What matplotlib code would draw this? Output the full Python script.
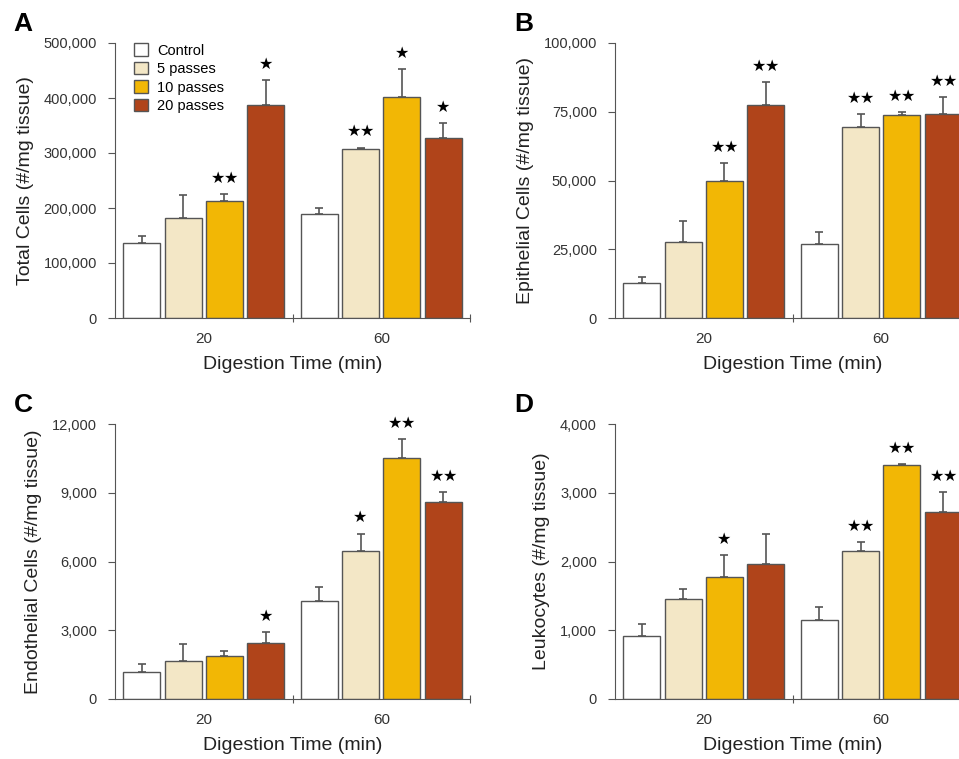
import matplotlib
matplotlib.use("Agg")
import matplotlib.pyplot as plt
import numpy as np

plt.rcParams['font.family'] = ['Liberation Sans', 'DejaVu Sans']

#%% data
groups = ['Control', '5 passes', '10 passes', '20 passes']
times = ['20', '60']

totalMean = [[136000, 182000, 213000, 387000], [189000, 308000, 402000, 328000]]
totalErr = [[14000, 41000, 13000, 45000], [11000, 2000, 51000, 26000]]
totalStars = [[0, 0, 2, 1], [0, 2, 1, 1]]

epiMean = [[12900, 27700, 50000, 77500], [26800, 69400, 73700, 74300]]
epiErr = [[2000, 7700, 6200, 8200], [4400, 4900, 1200, 6000]]
epiStars = [[0, 0, 2, 2], [0, 2, 2, 2]]

endoMean = [[1180, 1650, 1890, 2460], [4270, 6480, 10530, 8590]]
endoErr = [[360, 750, 190, 470], [620, 740, 800, 440]]
endoStars = [[0, 0, 0, 1], [0, 1, 2, 2]]

leukoMean = [[920, 1450, 1770, 1960], [1155, 2150, 3400, 2720]]
leukoErr = [[170, 155, 325, 440], [185, 135, 15, 290]]
leukoStars = [[0, 0, 1, 0], [0, 2, 2, 2]]

colors = ['#FFFFFF', '#F3E7C6', '#F2B705', '#B0441A']

#%% plotting
fig = plt.figure(figsize=(9.59, 7.59), dpi=100)

def drawPanel(rect, letter, means, errs, stars, ymax, step, ylabel, legend=False):
    ax = fig.add_axes(rect)
    barW = 0.208
    offsets = np.array([-1.5, -0.5, 0.5, 1.5]) * 0.233
    starGap = 0.037  # half distance between two stars, data units
    for g in range(2):
        for i in range(4):
            x = g + 0.5 + offsets[i]
            m = means[g][i]
            e = errs[g][i]
            ax.bar(x, m, barW, color=colors[i], edgecolor='#555555', linewidth=1.0,
                   label=groups[i] if g == 0 else None, zorder=2)
            ax.errorbar(x, m, yerr=[[0], [e]], fmt='none', ecolor='#555555',
                        elinewidth=1.2, capsize=3, capthick=1.2, zorder=1)
            n = stars[g][i]
            if n == 1:
                xs = [x]
            elif n == 2:
                xs = [x - starGap, x + starGap]
            else:
                xs = []
            for sx in xs:
                ax.text(sx, m + e + ymax * 0.03, '★', ha='center', va='bottom',
                        fontsize=11.5, family=['DejaVu Sans'], color='black')
    ax.set_xlim(0, 2)
    ax.set_ylim(0, ymax)
    ax.set_yticks(np.arange(0, ymax + 1, step))
    ax.set_yticklabels(['{:,}'.format(int(v)) for v in np.arange(0, ymax + 1, step)])
    ax.set_xticks([1, 2])
    ax.set_xticklabels(['', ''])
    ax.tick_params(axis='x', direction='inout', length=6, color='#555555')
    ax.set_xticks([0.5, 1.5], minor=True)
    ax.set_xticklabels(times, minor=True)
    ax.tick_params(axis='x', which='minor', length=0, pad=10, labelsize=11, labelcolor='#333333')
    ax.tick_params(axis='y', direction='out', length=5, color='#555555', labelsize=10.5,
                   labelcolor='#333333', pad=8)
    for s in ['top', 'right']:
        ax.spines[s].set_visible(False)
    for s in ['left', 'bottom']:
        ax.spines[s].set_color('#555555')
    ax.set_xlabel('Digestion Time (min)', fontsize=14, color='#222222', labelpad=7)
    ax.set_ylabel(ylabel, fontsize=14, color='#222222', labelpad=7)
    ax.text(-0.285, 1.07, letter, transform=ax.transAxes, fontsize=19, fontweight='bold',
            ha='left', va='center')
    if legend:
        ax.legend(loc='upper left', bbox_to_anchor=(0.03, 1.03), frameon=False, fontsize=10.5,
                  handlelength=0.95, handleheight=0.95, handletextpad=0.6, labelspacing=0.28,
                  borderaxespad=0.2)
    return ax

w = 355 / 959
h = 275 / 759
drawPanel([115 / 959, 1 - 318 / 759, w, h], 'A', totalMean, totalErr, totalStars,
          500000, 100000, 'Total Cells (#/mg tissue)', legend=True)
drawPanel([615 / 959, 1 - 318 / 759, w, h], 'B', epiMean, epiErr, epiStars,
          100000, 25000, 'Epithelial Cells (#/mg tissue)')
drawPanel([115 / 959, 1 - 699 / 759, w, h], 'C', endoMean, endoErr, endoStars,
          12000, 3000, 'Endothelial Cells (#/mg tissue)')
drawPanel([615 / 959, 1 - 699 / 759, w, h], 'D', leukoMean, leukoErr, leukoStars,
          4000, 1000, 'Leukocytes (#/mg tissue)')

fig.savefig('out.png', dpi=100)
